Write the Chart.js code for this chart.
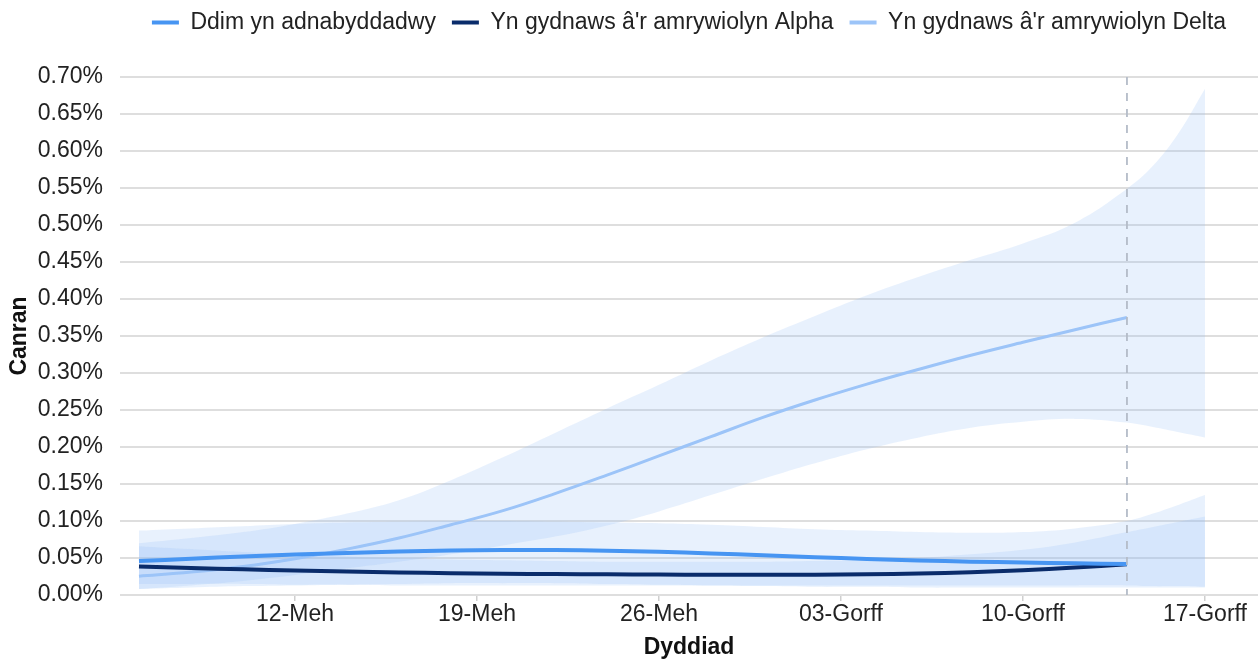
<!DOCTYPE html>
<html>
<head>
<meta charset="utf-8">
<script src="https://cdn.jsdelivr.net/npm/chart.js@4.4.1/dist/chart.umd.min.js"></script>
<style>
  html, body { margin: 0; padding: 0; background: #ffffff; }
  #wrap { width: 1258px; height: 661px; }
</style>
</head>
<body>
<div id="wrap"><canvas id="c" width="1258" height="661"></canvas></div>
<script>
// ---- Data (days counted from 1 June; 31 = 1 July) ----
const seriesNames = ['Ddim yn adnabyddadwy', "Yn gydnaws â'r amrywiolyn Alpha", "Yn gydnaws â'r amrywiolyn Delta"];
const lineDays = [6, 8, 10, 12, 14, 16, 18, 20, 22, 24, 26, 28, 30, 32, 34, 36, 38, 40, 42, 44];
const ddimValues  = [0.0458, 0.0490, 0.0520, 0.0546, 0.0568, 0.0587, 0.0601, 0.0608, 0.0607, 0.0598, 0.0583, 0.0562, 0.0537, 0.0511, 0.0488, 0.0467, 0.0451, 0.0439, 0.0428, 0.0418];
const alphaValues = [0.0385, 0.0365, 0.0347, 0.0331, 0.0317, 0.0305, 0.0295, 0.0288, 0.0283, 0.0279, 0.0276, 0.0274, 0.0273, 0.0274, 0.0279, 0.0290, 0.0308, 0.0334, 0.0370, 0.0415];
const deltaValues = [0.0255, 0.0310, 0.0385, 0.0490, 0.0620, 0.0770, 0.0950, 0.1140, 0.1370, 0.1620, 0.1880, 0.2140, 0.2400, 0.2635, 0.2850, 0.3050, 0.3240, 0.3415, 0.3585, 0.3750];

const bandDays = [6, 8, 10, 12, 14, 16, 18, 20, 22, 24, 26, 28, 30, 32, 34, 36, 38, 40, 42, 44, 45, 46, 47];
const ddimUpper  = [0.087, 0.090, 0.093, 0.096, 0.098, 0.099, 0.100, 0.100, 0.099, 0.098, 0.097, 0.095, 0.092, 0.089, 0.087, 0.085, 0.084, 0.085, 0.090, 0.100, 0.110, 0.122, 0.135];
const ddimLower  = [0.008, 0.010, 0.012, 0.013, 0.014, 0.015, 0.016, 0.016, 0.016, 0.015, 0.014, 0.013, 0.012, 0.011, 0.011, 0.010, 0.010, 0.010, 0.010, 0.010, 0.010, 0.010, 0.010];
const alphaUpper = [0.066, 0.062, 0.058, 0.055, 0.052, 0.050, 0.048, 0.047, 0.046, 0.045, 0.045, 0.045, 0.045, 0.046, 0.047, 0.050, 0.055, 0.061, 0.071, 0.085, 0.092, 0.099, 0.106];
const alphaLower = [0.015, 0.015, 0.015, 0.014, 0.014, 0.013, 0.013, 0.013, 0.013, 0.013, 0.013, 0.013, 0.013, 0.013, 0.013, 0.013, 0.013, 0.013, 0.013, 0.013, 0.012, 0.012, 0.011];
const deltaUpper = [0.070, 0.077, 0.085, 0.096, 0.110, 0.128, 0.155, 0.186, 0.219, 0.252, 0.284, 0.317, 0.348, 0.377, 0.405, 0.430, 0.453, 0.475, 0.503, 0.549, 0.580, 0.625, 0.684];
const deltaLower = [0.008, 0.013, 0.019, 0.027, 0.036, 0.045, 0.055, 0.067, 0.079, 0.094, 0.113, 0.135, 0.157, 0.178, 0.197, 0.213, 0.226, 0.234, 0.238, 0.233, 0.227, 0.220, 0.213];

const xTickDays   = [12, 19, 26, 33, 40, 47];
const xTickLabels = ['12-Meh', '19-Meh', '26-Meh', '03-Gorff', '10-Gorff', '17-Gorff'];
const projectionDay = 44;
const xMin = 5.27, xMax = 49.04;
const yMin = 0, yMax = 0.70, yStep = 0.05;

// ---- Styles ----
const FONT = "'Liberation Sans', Arial, sans-serif";
const colDdim = '#4795f2';
const colAlpha = '#0a2c6b';
const colDelta = '#9cc4f8';
const bandFill = 'rgba(150,190,245,0.22)';

const pts = (xs, ys) => xs.map((x, i) => ({ x: x, y: ys[i] }));

const lineDs = (label, xs, ys, color, w) => ({
  label: label, data: pts(xs, ys), borderColor: color, backgroundColor: color,
  borderWidth: w, pointRadius: 0, fill: false, tension: 0.4, order: 1, isLine: true
});
const upperDs = (xs, ys) => ({
  label: '_band', data: pts(xs, ys), borderWidth: 0, borderColor: 'rgba(0,0,0,0)',
  backgroundColor: bandFill, pointRadius: 0, fill: '+1', tension: 0.4, order: 10
});
const lowerDs = (xs, ys) => ({
  label: '_band', data: pts(xs, ys), borderWidth: 0, borderColor: 'rgba(0,0,0,0)',
  backgroundColor: 'rgba(0,0,0,0)', pointRadius: 0, fill: false, tension: 0.4, order: 10
});

const datasets = [
  lineDs(seriesNames[0], lineDays, ddimValues, colDdim, 4),
  lineDs(seriesNames[1], lineDays, alphaValues, colAlpha, 4),
  lineDs(seriesNames[2], lineDays, deltaValues, colDelta, 3),
  upperDs(bandDays, ddimUpper), lowerDs(bandDays, ddimLower),
  upperDs(bandDays, alphaUpper), lowerDs(bandDays, alphaLower),
  upperDs(bandDays, deltaUpper), lowerDs(bandDays, deltaLower)
];

const legendHeightPlugin = {
  id: 'legendHeight',
  beforeLayout(chart) {
    const lg = chart.legend;
    if (lg && !lg._hPatched) {
      const orig = lg.fit;
      lg.fit = function () { orig.call(this); this.height = 82; };
      lg._hPatched = true;
    }
  }
};

const projectionLine = {
  id: 'projectionLine',
  afterDatasetsDraw(chart) {
    const { ctx, chartArea, scales } = chart;
    const x = scales.x.getPixelForValue(projectionDay);
    ctx.save();
    ctx.strokeStyle = '#b4bcc8';
    ctx.lineWidth = 1.8;
    ctx.setLineDash([8, 8]);
    ctx.beginPath();
    ctx.moveTo(x, chartArea.top);
    ctx.lineTo(x, chartArea.bottom);
    ctx.stroke();
    ctx.restore();
  }
};

new Chart(document.getElementById('c'), {
  type: 'line',
  data: { datasets: datasets },
  options: {
    responsive: false,
    animation: false,
    devicePixelRatio: 1,
    layout: { padding: { top: -5, left: 0, right: 0, bottom: 0 } },
    plugins: {
      filler: { drawTime: 'beforeDatasetsDraw', propagate: false },
      tooltip: { enabled: false },
      legend: {
        position: 'top',
        fullSize: false,
        labels: {
          font: { family: FONT, size: 23 },
          color: '#222222',
          boxWidth: 27,
          boxHeight: 4,
          padding: 16,
          filter: (item, data) => data.datasets[item.datasetIndex].isLine === true,
          generateLabels: (chart) => chart.data.datasets.map((d, i) => ({
            text: d.label, fillStyle: d.borderColor, strokeStyle: d.borderColor, lineWidth: 0,
            hidden: false, datasetIndex: i, fontColor: '#222222'
          }))
        }
      }
    },
    scales: {
      x: {
        type: 'linear',
        min: xMin, max: xMax,
        afterBuildTicks: (scale) => { scale.ticks = xTickDays.map(v => ({ value: v })); },
        afterFit: (scale) => { scale.height = 66; },
        ticks: {
          autoSkip: false, maxRotation: 0, padding: 0,
          font: { family: FONT, size: 23 }, color: '#222222',
          callback: (v) => { const i = xTickDays.indexOf(v); return i >= 0 ? xTickLabels[i] : ''; }
        },
        grid: { drawOnChartArea: false, drawTicks: true, tickLength: 6, color: '#cfcfcf', lineWidth: 1.5 },
        border: { display: false },
        title: { display: true, text: 'Dyddiad', font: { family: FONT, size: 23, weight: 'bold' }, color: '#111111', padding: { top: 0, bottom: 0 } }
      },
      y: {
        min: yMin, max: yMax,
        afterFit: (scale) => { scale.width = 120; },
        ticks: {
          stepSize: yStep, padding: 17,
          font: { family: FONT, size: 23 }, color: '#222222',
          callback: (v) => (Math.round(v * 100) / 100).toFixed(2) + '%'
        },
        grid: { drawTicks: false, color: '#dedede', lineWidth: 2 },
        border: { display: false },
        title: { display: true, text: 'Canran', font: { family: FONT, size: 23, weight: 'bold' }, color: '#111111', padding: { top: 6, bottom: 0 } }
      }
    }
  },
  plugins: [legendHeightPlugin, projectionLine]
});
</script>
</body>
</html>
